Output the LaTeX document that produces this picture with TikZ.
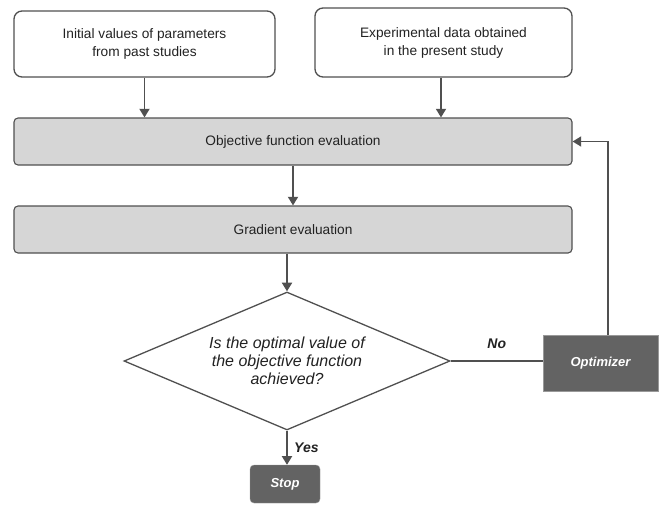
\documentclass[tikz,border=0pt]{standalone}
\usepackage{fontspec}
\setmainfont{Liberation Sans}
\usetikzlibrary{shapes.geometric}
\usetikzlibrary{positioning}
\usetikzlibrary{arrows.meta}

\definecolor{linegray}{HTML}{505050}
\definecolor{boxgray}{HTML}{D6D6D6}
\definecolor{darkbox}{HTML}{636363}
\definecolor{textgray}{HTML}{222222}

\tikzset{
    inbox/.style = {rectangle, rounded corners=8pt, draw=linegray, line width=1.3pt, fill=white,
                    align=center, text=textgray, font=\fontsize{13.7}{18}\selectfont, inner sep=0pt},
    evalbox/.style = {rectangle, rounded corners=4pt, draw=linegray, line width=1.1pt, fill=boxgray,
                    minimum width=558pt, minimum height=47pt, text=textgray, font=\fontsize{13.7}{16}\selectfont},
    darkbox/.style = {rectangle, draw=black!40, fill=darkbox, text=white,
                    font=\fontsize{13}{15}\selectfont\bfseries\itshape},
    flow/.style = {draw=linegray, line width=1.8pt, arrows = -{Triangle[angle=60:10pt,fill=linegray]}},
    plain/.style = {draw=linegray, line width=1.8pt},
    answer/.style = {text=textgray, font=\fontsize{14}{16}\selectfont\bfseries\itshape}
}

\begin{document}
\begin{tikzpicture}[x=1pt,y=1pt]

            %\draw [help lines] (0,0) grid (660,-504);
            \useasboundingbox (0,0) rectangle (660,-504);

            \path   (144.5,-44)  node (init) [inbox, minimum width=261pt, minimum height=66pt] {Initial values of parameters\\from past studies}
                    (443.5,-42.5) node (expt) [inbox, minimum width=257pt, minimum height=69pt] {Experimental data obtained\\in the present study}
                    (293,-141.5) node (obj) [evalbox] {Objective function evaluation}
                    (293,-229.5) node (grad) [evalbox] {Gradient evaluation}
                    (287,-361) node (check) [diamond, draw=linegray, line width=1.3pt, fill=white, inner sep=0pt,
                                minimum width=326pt, minimum height=138pt] {}
                    (287,-361) node (question) [align=center, text=textgray,
                                font=\fontsize{16}{18}\selectfont\itshape] {Is the optimal value of\\the objective function\\achieved?}
                    (600.5,-363) node (opt) [darkbox, minimum width=115pt, minimum height=56pt] {Optimizer}
                    (285,-484) node (stop) [darkbox, rounded corners=4pt, minimum width=70pt, minimum height=38pt] {Stop};

            \coordinate (turn) at (608,-141.5);

            \draw[flow] (init.south) -- (init.south |- obj.north);
            \draw[flow] (expt.south -| 441,0) -- (441,0 |- obj.north);
            \draw[flow] (obj.south) -- (grad.north);
            \draw[flow] (grad.south -| check.north) -- (check.north);
            \draw[flow] (check.south) -- node[right=3pt, answer] {Yes} (stop.north -| check.south);
            \draw[plain] (check.east) -- node[above=8pt, answer] {No} (check.east -| opt.west);
            \draw[flow] (opt.north -| turn) -- (turn) -- (obj.east);

\end{tikzpicture}
\end{document}
